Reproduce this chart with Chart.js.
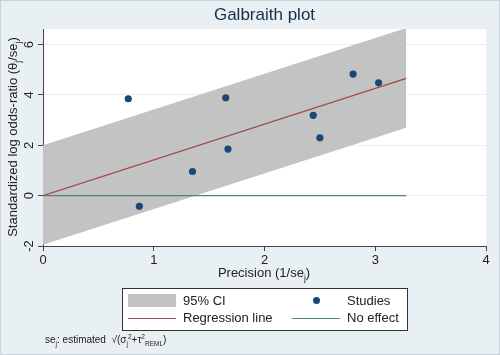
<!DOCTYPE html>
<html>
<head>
<meta charset="utf-8">
<script src="https://cdn.jsdelivr.net/npm/chart.js@4.4.1/dist/chart.umd.min.js"></script>
<style>
  body { margin: 0; }
  #wrap { position: relative; width: 500px; height: 355px; background: #e9f0f3; overflow: hidden;
          font-family: "Liberation Sans", Arial, sans-serif; color: #222; }
  #frame { position: absolute; left: 0; top: 0; right: 0; bottom: 0; border: 1px solid #c9d2d6; pointer-events: none; }
  .lbl { position: absolute; white-space: nowrap; }
  sub, sup { font-size: 65%; line-height: 0; }
  #ytitle { left: -117px; top: 129px; width: 260px; height: 16px; line-height: 16px; text-align: center;
            transform: rotate(-90deg); font-size: 13px; }
  #xtitle { left: 164px; top: 265px; width: 200px; text-align: center; font-size: 13px; }
  #legend { position: absolute; left: 122px; top: 288px; width: 284px; height: 41px; background: #fff; border: 1px solid #333; }
  #legend .t { position: absolute; font-size: 13px; line-height: 16px; }
  #note { left: 45px; top: 334px; font-size: 10px; }
</style>
</head>
<body>
<div id="wrap">
  <canvas id="galbraith" width="500" height="355"></canvas>
  <div class="lbl" id="ytitle">Standardized log odds-ratio (θ<sub>j</sub>/se<sub>j</sub>)</div>
  <div class="lbl" id="xtitle">Precision (1/se<sub>j</sub>)</div>
  <div id="legend">
    <div style="position:absolute;left:5px;top:5px;width:48px;height:13px;background:#c3c3c3"></div>
    <div class="t" style="left:60px;top:4px">95% CI</div>
    <div style="position:absolute;left:5px;top:29px;width:48px;height:1px;background:#a24a4a"></div>
    <div class="t" style="left:60px;top:21px">Regression line</div>
    <div style="position:absolute;left:190px;top:8px;width:7px;height:7px;border-radius:50%;background:#1b4777"></div>
    <div class="t" style="left:224px;top:4px">Studies</div>
    <div style="position:absolute;left:169px;top:29px;width:48px;height:1px;background:#4f8576"></div>
    <div class="t" style="left:224px;top:21px">No effect</div>
  </div>
  <div class="lbl" id="note">se<sub>j</sub>: estimated &nbsp;√(σ<sub>j</sub><sup>2</sup>+τ<sup>2</sup><sub>REML</sub>)</div>
  <div id="frame"></div>
</div>
<script>
// 研究ごとの値 (precision = 1/se_j, 標準化log OR)
const precision = [0.77, 0.87, 1.35, 1.65, 1.67, 2.44, 2.50, 2.80, 3.03];
const stdLogOR  = [3.85, -0.42, 0.96, 3.89, 1.85, 3.19, 2.30, 4.83, 4.48];

// 回帰線・95%CI・No effect の端点
const lineX     = [0, 3.28];
const regY      = [0, 4.66];
const ciUpper   = [2.0, 6.66];
const ciLower   = [-1.95, 2.70];
const noEffectY = [0, 0];

// 軸の目盛り
const xTicks = [0, 1, 2, 3, 4];
const yTicks = [-2, 0, 2, 4, 6];

function pts(xs, ys) {
    return xs.map((x, i) => ({ x: x, y: ys[i] }));
}

// プロット領域を白で塗る
const plotBg = {
    id: 'plotBg',
    beforeDraw(chart) {
        const a = chart.chartArea;
        const ctx = chart.ctx;
        ctx.save();
        ctx.fillStyle = '#ffffff';
        ctx.fillRect(a.left, a.top, a.right - a.left, a.bottom - a.top);
        ctx.restore();
    }
};

const fontFamily = '"Liberation Sans", Arial, sans-serif';

const ctx = document.getElementById('galbraith').getContext('2d');
new Chart(ctx, {
    type: 'scatter',
    data: {
        datasets: [
            { type: 'line', data: pts(lineX, ciLower), borderWidth: 0, pointRadius: 0, fill: false, order: 3 },
            { type: 'line', data: pts(lineX, ciUpper), borderWidth: 0, pointRadius: 0,
              backgroundColor: '#c3c3c3', fill: '-1', order: 3 },
            { type: 'line', data: pts(lineX, regY), borderColor: '#a24a4a', borderWidth: 1.2, pointRadius: 0, order: 2 },
            { type: 'line', data: pts(lineX, noEffectY), borderColor: '#4f8576', borderWidth: 1.2, pointRadius: 0, order: 2 },
            { data: pts(precision, stdLogOR), backgroundColor: '#1b4777', borderWidth: 0, pointRadius: 3.6, order: 1 }
        ]
    },
    options: {
        responsive: false,
        devicePixelRatio: 1,
        animation: false,
        layout: { padding: { left: 0, right: 14, top: 0, bottom: 0 } },
        plugins: {
            legend: { display: false },
            tooltip: { enabled: false },
            title: {
                display: true,
                text: 'Galbraith plot',
                fullSize: false,
                color: '#1c2b4a',
                font: { family: fontFamily, size: 17, weight: 'normal' },
                padding: { top: 5, bottom: 3.6 }
            }
        },
        scales: {
            x: {
                type: 'linear',
                min: 0,
                max: 4,
                afterBuildTicks: s => { s.ticks = xTicks.map(v => ({ value: v })); },
                afterFit: s => { s.height = 109; },
                grid: { drawOnChartArea: false, tickLength: 5, tickColor: '#444' },
                border: { color: '#444', width: 1 },
                ticks: { color: '#222', padding: 2, font: { family: fontFamily, size: 13 }, maxRotation: 0 }
            },
            y: {
                type: 'linear',
                min: -2,
                max: 6.62,
                afterBuildTicks: s => { s.ticks = yTicks.map(v => ({ value: v })); },
                afterFit: s => { s.width = 43; },
                grid: { color: '#e6eff1', tickLength: 5, tickColor: '#444' },
                border: { color: '#444', width: 1 },
                ticks: { color: '#222', padding: 3, minRotation: 90, maxRotation: 90, crossAlign: 'center',
                         font: { family: fontFamily, size: 13 } }
            }
        }
    },
    plugins: [plotBg]
});
</script>
</body>
</html>
